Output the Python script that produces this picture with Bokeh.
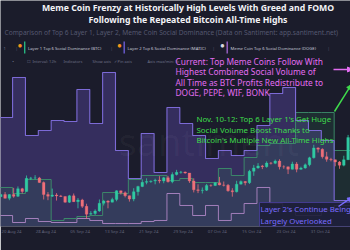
from datetime import datetime, timedelta
import pandas as pd
from bokeh.plotting import figure
from bokeh.models import (Range1d, Label, BoxAnnotation, Arrow, NormalHead,
                          FixedTicker, DatetimeTickFormatter, ColumnDataSource)
from bokeh.embed import file_html
from bokeh.resources import INLINE

# ---------------- data ----------------
# 3-day social dominance buckets (%), starting 2024-08-17 06:00
bucket_start = "2024-08-17 06:00"
meme_dom = [14.47, 19.78, 12.08, 12.74, 14.07, 13.94, 18.19, 13.67, 20.44, 10.09,
            6.37, 12.35, 7.17, 15.80, 13.67, 12.08, 9.03, 10.09, 9.42, 10.09,
            13.41, 17.65, 18.45, 14.07, 12.74, 11.42, 3.45, 3.45, 3.45]
layer1_dom = [5.18, 4.38, 6.24, 6.24, 0.80, 1.06, 1.33, 1.46, 4.51, 4.38,
              6.24, 6.77, 6.77, 6.11, 6.37, 5.84, 5.84, 7.70, 6.77, 9.16,
              10.75, 11.02, 11.02, 15.13, 15.13, 15.13, 10.09, 10.09, 10.09]
layer2_dom = [1.46, 0.53, 1.06, 0.66, 0.53, 0.53, 1.06, 0.80, 0.40, 0.40,
              0.40, 0.66, 0.80, 4.38, 2.79, 1.46, 2.79, 0.80, 1.73, 3.05,
              5.18, 3.05, 2.12, 1.46, 1.46, 2.12, 2.79, 2.79, 2.79]

# BTC daily candles (USD), 2024-08-17 .. 2024-11-07
btc_first_open = 58900
btc_close = [59490, 58430, 59490, 59010, 61160, 60380, 64100, 64180, 64220, 62880, 59500, 59030, 59380, 59120, 58970,
             57330, 59140, 57480, 57970, 56160, 53950, 54140, 54840, 57020, 57650, 57340, 58130, 60570, 60010, 59180,
             58210, 60310, 61760, 62950, 63200, 63350, 63580, 63340, 64260, 63140, 65180, 65790, 65890, 65600, 63330,
             60840, 60630, 60750, 62090, 62060, 62820, 62220, 62130, 60580, 60270, 62450, 63190, 62850, 66080, 67040,
             67610, 67400, 68420, 68360, 69000, 67370, 67360, 66650, 68160, 66640, 67010, 67930, 69910, 72720, 72340,
             70220, 69480, 69330, 68740, 67810, 69360, 75640, 75900]
btc_high = [59700, 60200, 59600, 61400, 61800, 61400, 64900, 64500, 65000, 64500, 63200, 60200, 61200, 59900, 59400,
            59000, 59400, 59800, 58500, 58300, 56900, 54800, 55300, 58100, 58000, 57900, 58600, 60700, 60600, 60400,
            59200, 61300, 62000, 63800, 64100, 63500, 64000, 64700, 64500, 64800, 65800, 66500, 66200, 66000, 65600,
            64100, 62400, 61500, 62500, 62400, 63000, 64500, 63200, 62500, 61300, 63400, 63500, 63300, 66500, 67900,
            68400, 67900, 68900, 68700, 69400, 69500, 67800, 67400, 68800, 68700, 67400, 68300, 70200, 73600, 72900,
            72600, 71600, 69900, 69400, 69000, 70500, 76400, 76900]
btc_low = [58800, 58400, 57900, 58600, 58800, 59800, 60300, 63600, 63800, 62800, 58100, 57900, 58800, 57800, 58800,
           57200, 57100, 57400, 55600, 55700, 52600, 53800, 53700, 54600, 56400, 55600, 57300, 57600, 59500, 58700,
           57500, 57600, 59200, 61600, 62400, 62800, 62400, 62700, 62700, 62900, 62700, 64900, 65400, 65400, 62800,
           60100, 59900, 59800, 60500, 61700, 61900, 62100, 61800, 60300, 58900, 60100, 62400, 62100, 62500, 64800,
           66800, 66700, 67100, 68000, 68100, 66600, 66800, 65300, 66600, 65800, 66500, 66800, 67500, 69700, 71400,
           69700, 68800, 68900, 67500, 66800, 67500, 69300, 74500]

tick_dates = ["2024-08-20", "2024-08-28", "2024-09-05", "2024-09-13", "2024-09-21",
              "2024-09-29", "2024-10-07", "2024-10-15", "2024-10-23", "2024-10-31", "2024-11-08"]

# ---------------- styling ----------------
BG = "#1b1c2b"
FONT = "Noto Sans"
MEME = "#7c6ad6"
L1 = "#3d8f6c"
L2 = "#b68bcb"
UP = "#30c9a2"
DOWN = "#ee6f79"

W, H = 350, 250
FRAME_H = 226

x_start = datetime(2024, 8, 17, 10, 20)
x_end = x_start + timedelta(days=81.63)

p = figure(width=W, height=H, x_axis_type="datetime",
           x_range=Range1d(x_start, x_end), y_range=Range1d(0, 30),
           output_backend="svg", toolbar_location=None, y_axis_location=None,
           min_border_left=0, min_border_right=0, min_border_top=0, min_border_bottom=24,
           background_fill_color=BG, border_fill_color=BG, outline_line_color=None)
p.extra_y_ranges = {"btc": Range1d(50450, 114470)}
p.grid.visible = False

# axis
ax = p.xaxis[0]
ax.ticker = FixedTicker(ticks=[pd.Timestamp(d).value // 10**6 for d in tick_dates])
fmt = "%d %b %y"
ax.formatter = DatetimeTickFormatter(days=fmt, months=fmt, hours=fmt, years=fmt,
                                     minutes=fmt, hourmin=fmt, seconds=fmt)
ax.axis_line_color = None
ax.major_tick_line_color = None
ax.minor_tick_line_color = None
ax.major_tick_out = 0
ax.major_tick_in = 0
ax.major_label_standoff = 1
ax.major_label_text_font = FONT
ax.major_label_text_font_size = "4.3px"
ax.major_label_text_color = "#62657c"

# social dominance steps
bx = list(pd.date_range(bucket_start, periods=len(meme_dom), freq="3D"))
dom = ColumnDataSource(dict(x=bx, meme=meme_dom, l1=layer1_dom, l2=layer2_dom,
                            zero=[0] * len(bx)))
p.varea_step(x="x", y1="zero", y2="meme", step_mode="after", source=dom,
             fill_color="#6a55c8", fill_alpha=0.33)
p.varea_step(x="x", y1="zero", y2="l1", step_mode="after", source=dom,
             fill_color="#2f8a5a", fill_alpha=0.16)
p.step(x="x", y="l2", mode="after", source=dom, line_color=L2, line_width=1, line_alpha=0.85)
p.step(x="x", y="l1", mode="after", source=dom, line_color=L1, line_width=1, line_alpha=0.9)
p.step(x="x", y="meme", mode="after", source=dom, line_color=MEME, line_width=1.1)

# BTC candles
days = list(pd.date_range("2024-08-17 12:00", periods=len(btc_close), freq="D"))
btc_open = [btc_first_open] + btc_close[:-1]
colors = [UP if c >= o else DOWN for o, c in zip(btc_open, btc_close)]
cs = ColumnDataSource(dict(x=days, o=btc_open, c=btc_close, h=btc_high, l=btc_low, col=colors))
p.segment(x0="x", y0="l", x1="x", y1="h", color="col", line_width=0.8, source=cs, y_range_name="btc")
p.vbar(x="x", bottom="o", top="c", width=0.62 * 86400000, fill_color="col", line_color="col",
       line_width=0.3, source=cs, y_range_name="btc")


def lab(x, ycanvas, text, size, color, bold=False, align="left", alpha=1.0, **kw):
    p.add_layout(Label(x=x, y=FRAME_H - ycanvas, x_units="screen", y_units="screen",
                       text=text, text_font=FONT, text_font_size=size, text_color=color,
                       text_font_style="bold" if bold else "normal", text_align=align,
                       text_baseline="middle", text_alpha=alpha, **kw))


# watermark
lab(118, 140, "santiment", "38px", "#ffffff", alpha=0.035)

# titles
lab(187.5, 7, "Meme Coin Frenzy at Historically High Levels With Greed and FOMO", "8.7px", "#f2f2f6", bold=True, align="center")
lab(187.5, 19.5, "Following the Repeated Bitcoin All-Time Highs", "8.7px", "#f2f2f6", bold=True, align="center")
lab(4, 32, "Comparison of Top 6 Layer 1, Layer 2, Meme Coin Social Dominance (Data on Santiment: app.santiment.net)",
    "6.6px", "#555870")

# legend row
for xc, txt, bar, icon, icol in [
        (27.5, "Layer 1 Top 6 Social Dominance (BTC)", "#27b37f", "●", "#f7931a"),
        (127, "Layer 2 Top 6 Social Dominance (MATIC)", "#6c5dd3", "●", "#f7931a"),
        (230, "Meme Coin Top 6 Social Dominance (DOGE)", "#9c62c9", "●", "#d8d8e0")]:
    p.add_layout(BoxAnnotation(left=xc - 4, right=xc - 2.6, top=FRAME_H - 41, bottom=FRAME_H - 53,
                               left_units="screen", right_units="screen", top_units="screen",
                               bottom_units="screen", fill_color=bar, fill_alpha=1, line_color=None))
    lab(xc - 8, 44, icon, "8px", icol, align="center")
    lab(xc, 48, txt, "4.2px", "#c8cad8")
lab(3, 48, "1", "4.2px", "#6a6d82")
for xs in [15, 110, 212, 327]:
    lab(xs, 48, "|", "4.2px", "#55586c")

# toolbar row
for xs, txt in [(12, "▪"), (26, "☐"), (32, "Interval: 12h"), (63, "Indicators"),
                (92, "Show axis"), (113, "✓ Pin axis"), (147, "Axis max/min: Sc")]:
    lab(xs, 61, txt, "4px", "#6e7188")

# magenta annotation
MAG = "#e26cf0"
for i, t in enumerate(["Current: Top Meme Coins Follow With",
                       "Highest Combined Social Volume of",
                       "All Time as BTC Profits Redistribute to",
                       "DOGE, PEPE, WIF, BONK"]):
    lab(175, 60.5 + 10.5 * i, t, "8.4px", MAG)
p.add_layout(Arrow(x_start=333, y_start=FRAME_H - 69, x_end=352, y_end=FRAME_H - 69,
                   start_units="screen", end_units="screen", line_color=MAG, line_width=1.5,
                   end=NormalHead(size=5, fill_color=MAG, line_color=MAG)))

# green annotation
GRN = "#3fdc4c"
for i, t in enumerate(["Nov. 10-12:  Top 6 Layer 1's Get Huge",
                       "Social Volume Boost Thanks to",
                       "Bitcoin's Multiple New All-Time Highs"]):
    lab(196, 118.5 + 10.5 * i, t, "7.9px", GRN)
p.add_layout(Arrow(x_start=334, y_start=FRAME_H - 111, x_end=351, y_end=FRAME_H - 84,
                   start_units="screen", end_units="screen", line_color=GRN, line_width=1.5,
                   end=NormalHead(size=5, fill_color=GRN, line_color=GRN)))

# layer 2 annotation
BLU = "#7a6cff"
p.add_layout(Label(x=259, y=FRAME_H - 202, x_units="screen", y_units="screen",
                   text="Layer 2's Continue Being\nLargely Overlooked", text_font=FONT,
                   text_font_size="7.8px", text_color=BLU, text_baseline="top",
                   text_line_height=1.2, background_fill_color="#1c1d36",
                   background_fill_alpha=0.9, border_line_color="#4a3fa0", border_line_width=0.8,
                   padding=1))
p.add_layout(Arrow(x_start=338, y_start=FRAME_H - 206, x_end=351, y_end=FRAME_H - 197,
                   start_units="screen", end_units="screen", line_color=BLU, line_width=1.5,
                   end=NormalHead(size=4, fill_color=BLU, line_color=BLU)))

open("out.html", "w").write(file_html(p, INLINE))
